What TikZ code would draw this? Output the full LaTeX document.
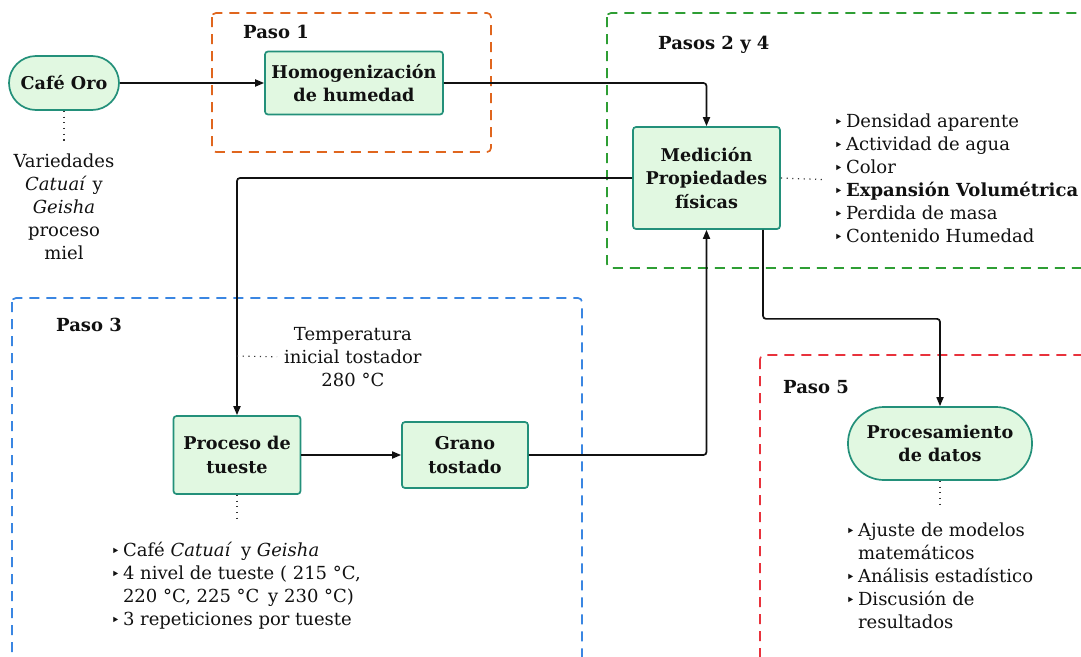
\documentclass[tikz,border=0pt]{standalone}
\usepackage{fontspec}
\setmainfont{DejaVu Serif}
\newfontfamily\symfont{DejaVu Sans}
\usetikzlibrary{arrows.meta}
\definecolor{boxfill}{HTML}{E1F8E1}
\definecolor{boxline}{HTML}{23907A}
\definecolor{fOrange}{HTML}{E0661E}
\definecolor{fGreen}{HTML}{2E9E34}
\definecolor{fBlue}{HTML}{3A86E2}
\definecolor{fRed}{HTML}{E8323C}
\definecolor{ink}{HTML}{111111}
\newcommand{\bul}{{\symfont\fontsize{15}{15}\selectfont ‣}}
\newcommand{\bodyfont}{\fontsize{18}{23}\selectfont}
\tikzset{
  procbox/.style={draw=boxline, fill=boxfill, line width=1.7pt, rounded corners=3pt,
    align=center, font=\bfseries\fontsize{17.6}{23.5}\selectfont, text=ink, inner sep=3pt},
  pill/.style={procbox},
  frame/.style={line width=1.7pt, dash pattern=on 10pt off 7pt, rounded corners=4pt},
  steplabel/.style={font=\bfseries\fontsize{18}{20}\selectfont, text=ink, inner sep=0pt},
  plain/.style={align=center, font=\bodyfont, text=ink, inner sep=0pt},
  listtext/.style={align=left, font=\bodyfont, text=ink, inner sep=0pt},
  arr/.style={draw=ink, line width=1.7pt, rounded corners=3pt, -{Triangle[length=9pt,width=7pt]}},
  dotline/.style={draw=ink!85, line width=1.2pt, dash pattern=on 1.2pt off 4.5pt},
}
\begin{document}
\begin{tikzpicture}[x=1pt,y=-1pt]
\useasboundingbox (0,0) rectangle (1081,656);
\clip (0,0) rectangle (1081,656);
% frames
\draw[frame, fOrange] (212,13) rectangle (491,152);
\draw[frame, fGreen] (607,13) rectangle (1110,268);
\draw[frame, fBlue] (12,298) rectangle (582,690);
\draw[frame, fRed] (760,355) rectangle (1110,690);
\node[steplabel, anchor=west] (p1) at (243,32) {Paso 1};
\node[steplabel, anchor=west] (p24) at (658,45) {Pasos 2 y 4};
\node[steplabel, anchor=west] (p3) at (56,325) {Paso 3};
\node[steplabel, anchor=west] (p5) at (783,387) {Paso 5};
% nodes
\node[pill, minimum width=110pt, minimum height=54pt, rounded corners=27pt] (cafe) at (64,83) {Café Oro};
\node[procbox, minimum width=178pt, minimum height=63pt] (homog) at (354,83) {Homogenización\\de humedad};
\node[procbox, minimum width=147pt, minimum height=102pt] (med) at (706.5,178) {Medición\\Propiedades\\físicas};
\node[procbox, minimum width=127pt, minimum height=78pt] (tueste) at (237,455) {Proceso de\\tueste};
\node[procbox, minimum width=126pt, minimum height=66pt] (grano) at (465,455) {Grano\\tostado};
\node[pill, minimum width=184pt, minimum height=73pt, rounded corners=36pt] (proc) at (940,443.5) {Procesamiento\\de datos};
% texts
\node[plain, anchor=north] (var) at (64,154) {Variedades\\\textit{Catuaí} y\\\textit{Geisha}\\proceso\\miel};
\node[plain, anchor=west] (temp) at (284,357) {Temperatura\\inicial tostador\\280 °C};
\node[listtext, anchor=west] (medlist) at (834,180) {\bodyfont\begin{tabular}{@{}l@{\,}l@{}}
\bul & Densidad aparente\\
\bul & Actividad de agua\\
\bul & Color\\
\bul & \textbf{Expansión Volumétrica}\\
\bul & Perdida de masa\\
\bul & Contenido Humedad
\end{tabular}};
\node[listtext, anchor=north west] (tlist) at (111,540) {\bodyfont\begin{tabular}{@{}l@{\,}l@{}}
\bul & Café \textit{Catuaí}\, y \textit{Geisha}\\
\bul & 4 nivel de tueste ( 215 °C,\\
 & 220 °C, 225 °C\, y 230 °C)\\
\bul & 3 repeticiones por tueste
\end{tabular}};
\node[listtext, anchor=north west] (plist) at (846,520) {\bodyfont\begin{tabular}{@{}l@{\,}l@{}}
\bul & Ajuste de modelos\\
 & matemáticos\\
\bul & Análisis estadístico\\
\bul & Discusión de\\
 & resultados
\end{tabular}};
\coordinate (tdot) at (237,356);
\coordinate (procturn) at ([xshift=56.5pt]med.south);
% connectors
\draw[arr] (cafe) -- (homog);
\draw[arr] (homog.east) -| (med.north);
\draw[arr] (med.west) -| (tueste.north);
\draw[arr] (tueste) -- (grano);
\draw[arr] (grano.east) -| (med.south);
\draw[arr] (procturn) -- ++(0,89) -| (proc.north);
% dotted
\draw[dotline, shorten >=13pt] (cafe.south) -- (var.north);
\draw[dotline, shorten >=12pt] (med.east) -- (medlist.west);
\draw[dotline, shorten >=7pt] (tdot) -- (temp.west);
\draw[dotline] (tueste.south) -- ++(0,26);
\draw[dotline] (proc.south) -- ++(0,28);
\end{tikzpicture}
\end{document}
